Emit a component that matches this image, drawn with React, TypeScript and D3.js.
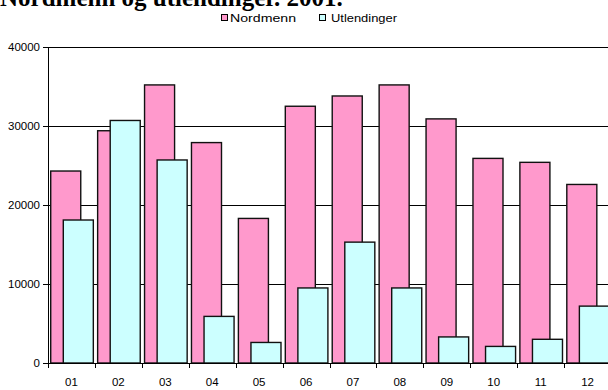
import React from "react";
import * as d3 from "d3";

const months = ["01", "02", "03", "04", "05", "06", "07", "08", "09", "10", "11", "12"];
const nordmenn = [24300, 29400, 35200, 27900, 18300, 32500, 33800, 35200, 30900, 25900, 25400, 22600];
const utlendinger = [18100, 30700, 25700, 5900, 2600, 9500, 15300, 9500, 3300, 2100, 3000, 7200];
const yTicks = [0, 10000, 20000, 30000, 40000];
const seriesNames = ["Nordmenn", "Utlendinger"];
const colors = ["#ff99cc", "#ccffff"];

const W = 608;
const H = 390;
const left = 48;
const right = 611;
const top = 47;
const bottom = 363;

export default function App() {
  const x = d3.scaleBand<string>().domain(months).range([left, right]).padding(0);
  const y = d3.scaleLinear().domain([0, 40000]).range([bottom, top]);
  const bw = x.bandwidth();
  const barW = bw * 0.64;
  const offsets = [bw * 0.058, bw * 0.326];
  const series = [nordmenn, utlendinger];
  const sans = "'Liberation Sans', Arial, sans-serif";

  return (
    <svg
      width={W}
      height={H}
      style={{ position: "absolute", left: 0, top: 0, background: "#fff" }}
    >
      <rect x={0} y={0} width={W} height={H} fill="#fff" />
      <text
        x={0}
        y={6}
        fontFamily="'Liberation Serif', 'Times New Roman', serif"
        fontWeight="bold"
        fontSize={25}
        fill="#000"
      >
        Nordmenn og utlendinger. 2001.
      </text>
      {/* legend */}
      <g fontFamily={sans} fontSize={11.5} fill="#000">
        <rect x={221.5} y={14.5} width={6} height={6} fill={colors[0]} stroke="#000" strokeWidth={1} />
        <text x={230} y={21.5} textLength={66} lengthAdjust="spacingAndGlyphs">{seriesNames[0]}</text>
        <rect x={319.5} y={14.5} width={6} height={6} fill={colors[1]} stroke="#000" strokeWidth={1} />
        <text x={331} y={21.5} textLength={66} lengthAdjust="spacingAndGlyphs">{seriesNames[1]}</text>
      </g>
      {/* gridlines */}
      {yTicks.map((t) => (
        <g key={t}>
          {t > 0 && (
            <line x1={left} x2={right} y1={Math.round(y(t)) + 0.5} y2={Math.round(y(t)) + 0.5} stroke="#000" strokeWidth={1} />
          )}
          <line x1={43} x2={left} y1={Math.round(y(t)) + 0.5} y2={Math.round(y(t)) + 0.5} stroke="#000" strokeWidth={1} />
          <text
            x={40}
            y={Math.round(y(t)) + 4}
            textAnchor="end"
            fontFamily={sans}
            fontSize={11.5}
            fill="#000"
          >
            {t}
          </text>
        </g>
      ))}
      {/* bars */}
      {series.map((vals, si) =>
        vals.map((v, i) => {
          const x0 = (x(months[i]) as number) + offsets[si];
          return (
            <rect
              key={si + "-" + i}
              x={x0}
              y={y(v)}
              width={barW}
              height={bottom - y(v)}
              fill={colors[si]}
              stroke="#111"
              strokeWidth={1.4}
            />
          );
        })
      )}
      {/* axes */}
      <line x1={left + 0.5} x2={left + 0.5} y1={top} y2={bottom + 5} stroke="#000" strokeWidth={1} />
      <line x1={left} x2={right} y1={bottom + 0.5} y2={bottom + 0.5} stroke="#000" strokeWidth={1} />
      {months.map((m) => {
        const xb = Math.round(x(m) as number) + 0.5;
        return (
          <g key={m}>
            <line x1={xb} x2={xb} y1={bottom} y2={bottom + 5} stroke="#000" strokeWidth={1} />
            <text
              x={(x(m) as number) + bw / 2}
              y={386}
              textAnchor="middle"
              fontFamily={sans}
              fontSize={11.5}
              fill="#000"
            >
              {m}
            </text>
          </g>
        );
      })}
    </svg>
  );
}
